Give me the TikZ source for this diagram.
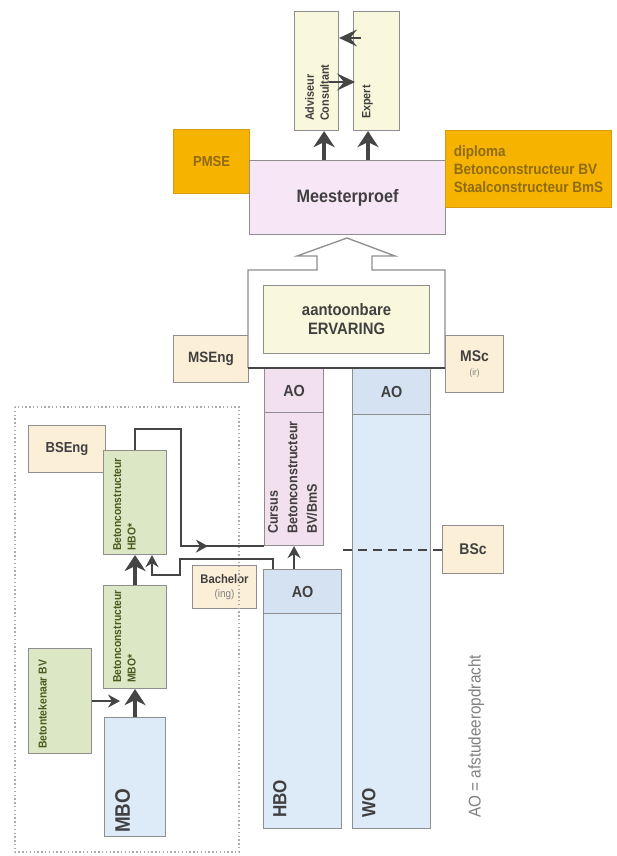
\documentclass[tikz,border=0pt]{standalone}
\usepackage{fontspec}
\setmainfont{Liberation Sans}[FakeStretch=0.9]
\usepackage{xcolor}
\usetikzlibrary{arrows.meta,decorations.markings}

\definecolor{rand}{HTML}{8E8E8E}
\definecolor{pijl}{HTML}{454545}
\definecolor{geel}{HTML}{FAF8DC}
\definecolor{oranje}{HTML}{F6B300}
\definecolor{oranjerand}{HTML}{D69A12}
\definecolor{bruin}{HTML}{8F6B14}
\definecolor{roze}{HTML}{F7E6F5}
\definecolor{roze2}{HTML}{F3E0EE}
\definecolor{perzik}{HTML}{FCEFD7}
\definecolor{blauw}{HTML}{DDEAF7}
\definecolor{blauw2}{HTML}{D4E2F2}
\definecolor{groen}{HTML}{DCE8C5}
\definecolor{tekst}{HTML}{404040}
\definecolor{groentekst}{HTML}{4D5A1E}

\begin{document}
\begin{tikzpicture}[x=1pt,y=-1pt,
    every node/.style={text=tekst},
    box/.style={draw=rand, line width=1.1pt, inner sep=0pt, anchor=north west},
    sz/.style 2 args={minimum width=#1, minimum height=#2},
    rot/.style={rotate=90, anchor=north west, inner sep=0pt, align=left},
    bigarrow/.style={color=pijl, line width=3.8pt, -{Stealth[length=16pt 0 0,width=21pt 0 0,inset=5pt]}},
    pijltje/.style={color=pijl, line width=2.2pt, -{Stealth[length=12pt 0 0,width=13pt 0 0,inset=4pt]}},
    kopje/.style={color=pijl, line width=2pt, -{Stealth[length=18pt 0 0,width=17pt 0 0,inset=7pt]}},
    lijn/.style={color=pijl, line width=2.2pt},
    midpijl/.style={postaction={decorate}, decoration={markings,
        mark=at position 0.79 with {\arrow{Stealth[length=12pt 0 0,width=13pt 0 0,inset=4pt]}}}},
    stippel/.style={color=pijl, line width=2pt, dash pattern=on 9pt off 6pt},
    kader/.style={draw=gray!65, line width=1.4pt, dash pattern=on 1.4pt off 2.4pt}]
\useasboundingbox[fill=white] (0,0) rectangle (616,856);

% Adviseur / Expert
\node[box, fill=geel, sz={44}{119}] (adv) at (294,11) {};
\node[box, fill=geel, sz={46}{119}] (expert) at (353,11) {};
\node[rot, font=\bfseries\fontsize{12}{15}\selectfont] (adv-t) at ([xshift=11pt,yshift=10pt]adv.south west) {Adviseur\\Consultant};
\node[rot, font=\bfseries\fontsize{12}{15}\selectfont] (expert-t) at ([xshift=9pt,yshift=12pt]expert.south west) {Expert};
\draw[kopje] ([xshift=8pt,yshift=-27pt]expert.north west) -- ([yshift=-27pt]adv.north east);
\draw[kopje] ([xshift=-10pt,yshift=-71pt]adv.north east) -- ([xshift=2pt,yshift=-71pt]expert.north west);

% PMSE, Meesterproef, diploma
\node[box, fill=oranje, draw=oranjerand, sz={76}{64}, text=bruin, font=\bfseries\fontsize{14.5}{17}\selectfont] (pmse) at (173,129) {PMSE};
\node[box, fill=roze, sz={196}{74}, font=\bfseries\fontsize{18}{20}\selectfont] (meester) at (249,160) {Meesterproef};
\node[box, fill=oranje, draw=oranjerand, sz={166}{77}, align=left, text=bruin, font=\bfseries\fontsize{15}{18}\selectfont] (diploma) at (445,130) {diploma\\Betonconstructeur BV\\Staalconstructeur BmS};
\draw[bigarrow] ([xshift=-15pt]adv.south east |- meester.north) -- ([xshift=-15pt]adv.south east);
\draw[bigarrow] ([xshift=15pt]expert.south west |- meester.north) -- ([xshift=15pt]expert.south west);

% MSEng, MSc
\node[box, fill=perzik, sz={75}{47}, font=\bfseries\fontsize{15}{18}\selectfont] (mseng) at (173,335) {MSEng};
\node[box, fill=perzik, sz={58}{57}, align=center, font=\bfseries\fontsize{15.5}{18}\selectfont] (msc) at (445,335) {MSc\\[-4pt]{\mdseries\fontsize{9}{10}\selectfont\textcolor{gray}{(ir)}}};

% open arrow with ervaring
\draw[rand, line width=1.3pt, fill=white] (248,368) -- (248,270) -- (317,270) -- (317,256) -- (297,256) -- (347,238) -- (395,256) -- (372,256) -- (372,270) -- (445,270) -- (445,368);
\node[box, fill=geel, sz={166}{68}, align=center, font=\bfseries\fontsize{16.5}{19}\selectfont] (ervaring) at (263,285) {aantoonbare\\ERVARING};

% columns
\node[box, fill=roze2, sz={59}{177}] (cursus) at (264,368) {};
\node[box, fill=roze2, sz={59}{44}, font=\bfseries\fontsize{16}{18}\selectfont] (ao1) at (264,368) {AO};
\node[rot, font=\bfseries\fontsize{14}{19.5}\selectfont] (cursus-t) at ([xshift=4pt,yshift=12pt]cursus.south west) {Cursus\\Betonconstructeur\\BV/BmS};
\node[box, fill=blauw, sz={78}{460}] (wo) at (352,368) {};
\node[box, fill=blauw2, sz={78}{46}, font=\bfseries\fontsize{16}{18}\selectfont] (ao2) at (352,368) {AO};
\node[rot, font=\bfseries\fontsize{19}{22}\selectfont] (wo-t) at ([xshift=10pt,yshift=11pt]wo.south west) {WO};
\node[box, fill=blauw, sz={78}{259}] (hbo) at (263,569) {};
\node[box, fill=blauw2, sz={78}{44}, font=\bfseries\fontsize{16}{18}\selectfont] (ao3) at (263,569) {AO};
\node[rot, font=\bfseries\fontsize{19}{22}\selectfont] (hbo-t) at ([xshift=10pt,yshift=11pt]hbo.south west) {HBO};
\node[rot, text=gray, font=\fontsize{17}{20}\selectfont] (legenda) at ([xshift=37pt,yshift=11pt]wo.south east) {AO = afstudeeropdracht};

% BSc, Bachelor
\node[box, fill=perzik, sz={61}{48}, font=\bfseries\fontsize{15.5}{18}\selectfont] (bsc) at (442,525) {BSc};
\node[box, fill=perzik, sz={64}{43}, align=center, font=\bfseries\fontsize{12.5}{15}\selectfont] (bachelor) at (192,565) {Bachelor\\[-1pt]{\mdseries\fontsize{11}{12}\selectfont\textcolor{gray}{(ing)}}};

% MBO route
\draw[kader] (15,407) rectangle (239,852);
\node[box, fill=perzik, sz={77}{47}, font=\bfseries\fontsize{14.5}{17}\selectfont] (bseng) at (28,425) {BSEng};
\node[box, fill=groen, sz={63}{104}] (hbostar) at (103,450) {};
\node[rot, text=groentekst, font=\bfseries\fontsize{11.5}{14.5}\selectfont] (hbostar-t) at ([xshift=10pt,yshift=4pt]hbostar.south west) {Betonconstructeur\\HBO*};
\node[box, fill=groen, sz={63}{103}] (mbostar) at (103,585) {};
\node[rot, text=groentekst, font=\bfseries\fontsize{11.5}{14.5}\selectfont] (mbostar-t) at ([xshift=10pt,yshift=6pt]mbostar.south west) {Betonconstructeur\\MBO*};
\node[box, fill=groen, sz={63}{105}] (tekenaar) at (28,648) {};
\node[rot, text=groentekst, font=\bfseries\fontsize{11.5}{14.5}\selectfont] (tekenaar-t) at ([xshift=10pt,yshift=5pt]tekenaar.south west) {Betontekenaar BV};
\node[box, fill=blauw, sz={61}{119}] (mbo) at (104,717) {};
\node[rot, font=\bfseries\fontsize{21}{24}\selectfont] (mbo-t) at ([xshift=11pt,yshift=4pt]mbo.south west) {MBO};

% Arrows
\draw[bigarrow] (mbo.north) -- (mbostar.south);
\draw[bigarrow] (mbostar.north) -- (hbostar.south);
\coordinate (inpijl) at (120,702);
\draw[pijltje] (tekenaar.east) -- (tekenaar.east -| inpijl);
\coordinate (hoekA) at (181,429);
\draw[lijn, midpijl] (hbostar.north) |- (hoekA) |- (cursus.south west);
\coordinate (hoekB) at (180,559);
\coordinate (hoekC) at (152,575);
\draw[pijltje] ([xshift=10pt]hbo.north west) |- (hoekB) |- (hoekC) -- (hoekC |- hbostar.south);
\draw[pijltje] (cursus.south |- hbo.north) -- (cursus.south);
\draw[stippel] (bsc.west) -- (bsc.west -| hbo.north east);
\draw[pijl, line width=2.2pt] (248,368) -- (445,368);
\end{tikzpicture}
\end{document}
